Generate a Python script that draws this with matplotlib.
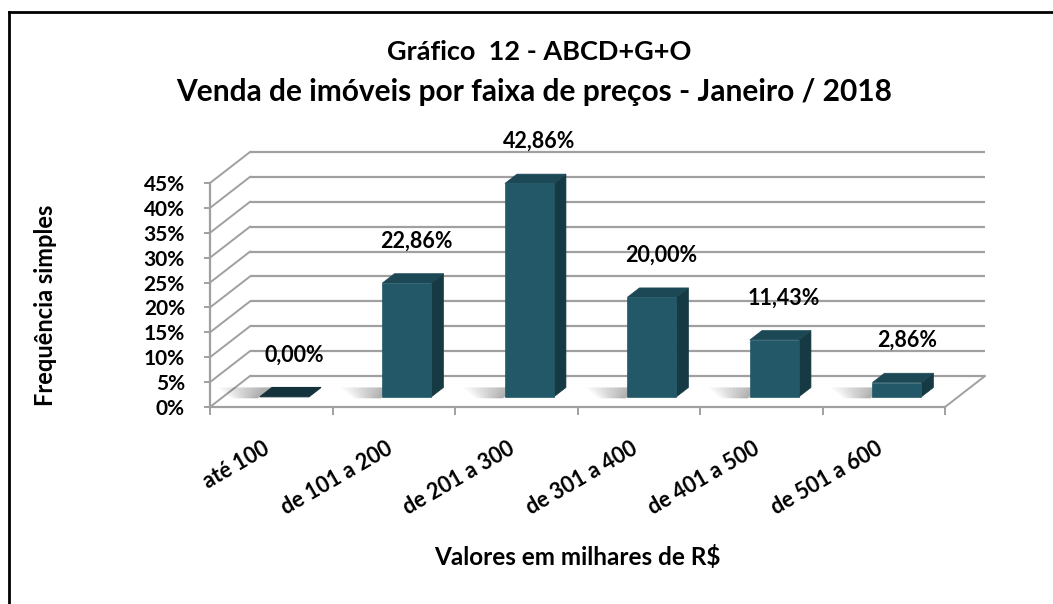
import matplotlib
matplotlib.use("Agg")
import matplotlib.pyplot as plt
from matplotlib.patches import Polygon
from matplotlib.lines import Line2D

# ---------------- data ----------------
categories = ["até 100", "de 101 a 200", "de 201 a 300", "de 301 a 400",
              "de 401 a 500", "de 501 a 600"]
values = [0.00, 22.86, 42.86, 20.00, 11.43, 2.86]
value_labels = ["0,00%", "22,86%", "42,86%", "20,00%", "11,43%", "2,86%"]
yticks = [0, 5, 10, 15, 20, 25, 30, 35, 40, 45]
ytick_labels = ["0%", "5%", "10%", "15%", "20%", "25%", "30%", "35%", "40%", "45%"]
title_lines = ["Gráfico  12 - ABCD+G+O",
               "Venda de imóveis por faixa de preços - Janeiro / 2018"]
ylabel = "Frequência simples"
xlabel = "Valores em milhares de R$"

# ---------------- style ----------------
FONT = "Lato"
W, H = 1053, 604
plt.rcParams["font.family"] = [FONT, "DejaVu Sans"]
plt.rcParams["font.weight"] = "bold"

GRID = "#a0a0a0"
FRONT = "#225867"
SIDE = "#163a44"
TOP = "#1c4855"
FLAT = "#13323b"

# oblique projection parameters (depth 0..1)
OX = 40 / 122.5      # category units shift at full depth
OY = 31 / 4.98       # percent units shift at full depth
BW = 0.40            # bar width (category units)
D0, D1 = 0.33, 0.63  # bar depth range

fig = plt.figure(figsize=(W / 100, H / 100), dpi=100)
ax = fig.add_axes([210 / W, (H - 407) / H, 735 / W, 224 / H])
ax.set_xlim(0, len(categories))
ax.set_ylim(0, 45)
ax.set_facecolor("none")


def P(x, y, d):
    return (x + d * OX, y + d * OY)


n = len(categories)

# floor
floor = Polygon([P(0, 0, 0), P(n, 0, 0), P(n, 0, 1), P(0, 0, 1)],
                closed=True, facecolor="white", edgecolor="none", zorder=1)
ax.add_patch(floor)

# back wall gridlines and side wall diagonals
for t in yticks:
    x1, y1 = P(0, t, 1)
    x2, y2 = P(n, t, 1)
    ax.add_line(Line2D([x1, x2], [y1, y2], color=GRID, lw=1.6, zorder=2,
                       clip_on=False, solid_capstyle="butt"))
    xa, ya = P(0, t, 0)
    ax.add_line(Line2D([xa, x1], [ya, y1], color=GRID, lw=1.4, zorder=2,
                       clip_on=False))
# right floor edge
xa, ya = P(n, 0, 0)
xb, yb = P(n, 0, 1)
ax.add_line(Line2D([xa, xb], [ya, yb], color=GRID, lw=1.4, zorder=2, clip_on=False))

# bars
for i, v in enumerate(values):
    xl = i + 0.5 - BW / 2
    xr = i + 0.5 + BW / 2
    # soft shadow on the floor, to the left of the bar
    nl = 12
    for j in range(nl):
        w = 0.04 + 0.40 * (j + 1) / nl
        poly = [P(xl - w, 0, D1), P(xl, 0, D1), P(xl, 0, D0 - 0.05),
                P(xl - w * 0.5, 0, D0 - 0.05)]
        ax.add_patch(Polygon(poly, closed=True, facecolor="#000000",
                             alpha=0.028, edgecolor="none", zorder=3, clip_on=False))
    if v <= 0.05:
        top = [P(xl, v, D0), P(xr, v, D0), P(xr, v, D1), P(xl, v, D1)]
        ax.add_patch(Polygon(top, closed=True, facecolor=FLAT, edgecolor=FLAT,
                             lw=0.8, zorder=4, clip_on=False))
        continue
    front = [P(xl, 0, D0), P(xr, 0, D0), P(xr, v, D0), P(xl, v, D0)]
    side = [P(xr, 0, D0), P(xr, 0, D1), P(xr, v, D1), P(xr, v, D0)]
    top = [P(xl, v, D0), P(xr, v, D0), P(xr, v, D1), P(xl, v, D1)]
    ax.add_patch(Polygon(side, closed=True, facecolor=SIDE, edgecolor=SIDE,
                         lw=0.5, zorder=4, clip_on=False))
    ax.add_patch(Polygon(top, closed=True, facecolor=TOP, edgecolor=TOP,
                         lw=0.5, zorder=4, clip_on=False))
    ax.add_patch(Polygon(front, closed=True, facecolor=FRONT, edgecolor=FRONT,
                         lw=0.5, zorder=5, clip_on=False))

# value labels
LABEL_OFFSET = 7.5
for i, (v, lab) in enumerate(zip(values, value_labels)):
    cx, cy = P(i + 0.5, v + LABEL_OFFSET, (D0 + D1) / 2)
    ax.text(cx + 0.03, cy, lab, ha="center", va="center", fontsize=15.5,
            fontweight="bold", color="black", zorder=6)

# axes spines / ticks
for s in ["top", "right"]:
    ax.spines[s].set_visible(False)
for s in ["left", "bottom"]:
    ax.spines[s].set_color(GRID)
    ax.spines[s].set_linewidth(1.6)
    ax.spines[s].set_zorder(2)

ax.set_yticks(yticks)
ax.set_yticklabels(ytick_labels, fontsize=15, fontweight="bold")
ax.tick_params(axis="y", direction="out", length=4, width=1.4, color=GRID,
               pad=14, labelcolor="black")

ax.set_xticks(range(n + 1))
ax.set_xticklabels([])
ax.tick_params(axis="x", which="major", direction="out", length=6, width=1.4,
               color=GRID)

# rotated category labels, anchored at each category centre
for i, cat in enumerate(categories):
    ax.annotate(cat, xy=(i + 0.5, 0), xycoords="data",
                xytext=(-6, -22), textcoords="offset points",
                ha="right", va="top", rotation=30, rotation_mode="anchor",
                fontsize=15.5, fontweight="bold", annotation_clip=False)

# titles and axis labels
fig.text(539 / W, 1 - 52 / H, title_lines[0], ha="center", va="center",
         fontsize=19.5, fontweight="bold")
fig.text(534 / W, 1 - 92 / H, title_lines[1], ha="center", va="center",
         fontsize=21.5, fontweight="bold")
fig.text(46 / W, 1 - 305 / H, ylabel, ha="center", va="center", rotation=90,
         fontsize=17, fontweight="bold")
fig.text(577 / W, 1 - 557 / H, xlabel, ha="center", va="center",
         fontsize=17.5, fontweight="bold")

# outer frame (left and top edges visible)
fig.add_artist(Line2D([9 / W, 9 / W], [0, 1 - 12 / H], transform=fig.transFigure,
                      color="black", lw=2.0, solid_capstyle="projecting"))
fig.add_artist(Line2D([9 / W, 1], [1 - 12 / H, 1 - 12 / H], transform=fig.transFigure,
                      color="black", lw=2.0, solid_capstyle="projecting"))

fig.savefig("out.png", dpi=100, facecolor="white")
